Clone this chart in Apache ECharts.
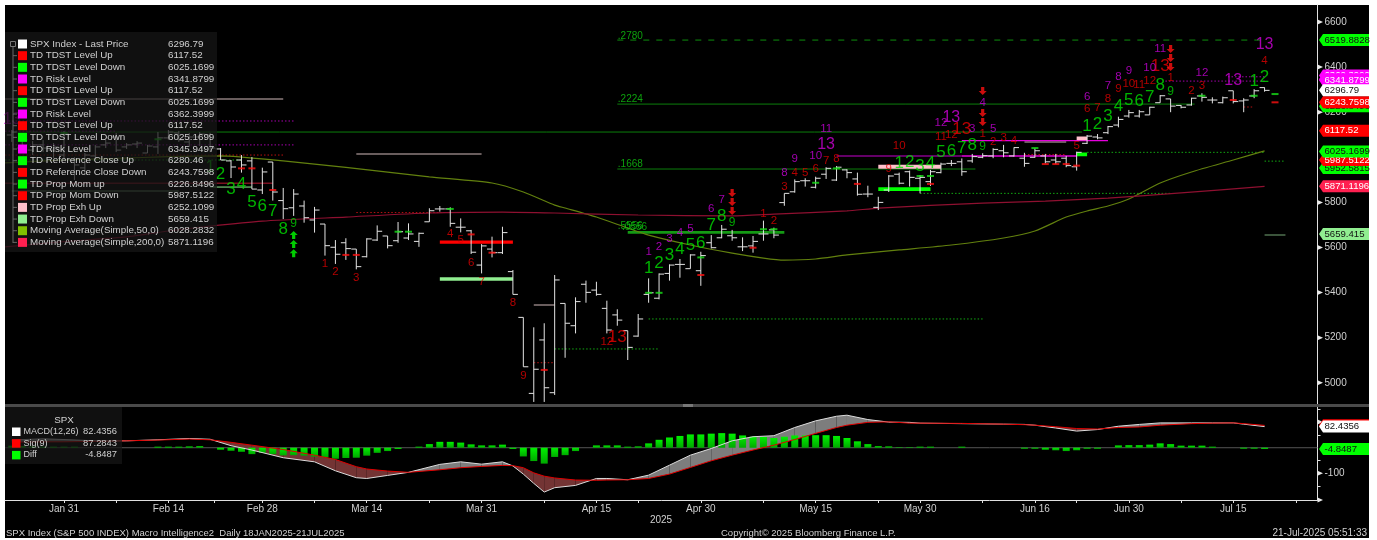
<!DOCTYPE html>
<html><head><meta charset="utf-8">
<style>html,body{margin:0;padding:0;background:#fff;width:1377px;height:540px;overflow:hidden}
#bg{position:absolute;left:5px;top:5px;width:1364px;height:533px;background:#000}
#c{position:absolute;left:0;top:0;width:1377px;height:540px}</style>
<script src="https://cdn.jsdelivr.net/npm/echarts@6/dist/echarts.min.js"></script>
</head><body><div id="bg"></div><div id="c"></div>
<script>
// sessions counted from Jan 31 = 0
const firstSession = -5;
const open = [6099,6041,6032,6055,6032,6010,5988,5953,6006,6055,6090,6046,6059,6019,6046,6086,6108,6068,6090,6099,6037,5984,5988,5984,5855,5979,5808,5776,5784,5722,5704,5601,5621,5593,5559,5633,5651,5630,5642,5627,5714,5771,5771,5690,5674,5522,5593,5577,5493,5290,4953,5190,4956,5352,5253,5437,5411,5330,5301,5231,5207,5392,5375,5485,5525,5506,5497,5621,5643,5652,5603,5607,5660,5678,5799,5847,5896,5867,5925,5899,5944,5904,5837,5778,5855,5925,5936,5907,5892,5932,5973,5980,5984,6000,6006,6029,6006,5996,6000,6006,5988,5996,5958,6062,6090,6109,6143,6183,6183,6188,6242,6259,6230,6232,6272,6254,6242,6295,6250,6272,6309];
const high = [6121,6086,6072,6077,6063,6117,6001,6019,6055,6077,6108,6063,6072,6055,6112,6121,6117,6108,6112,6108,6041,5988,6010,6001,5954,5979,5864,5859,5808,5780,5704,5633,5641,5593,5641,5698,5651,5713,5707,5666,5774,5784,5778,5729,5678,5615,5648,5692,5500,5290,5246,5264,5478,5352,5379,5453,5448,5364,5326,5231,5305,5463,5485,5525,5549,5570,5581,5655,5700,5678,5645,5651,5719,5688,5840,5902,5907,5914,5956,5961,5947,5932,5874,5825,5921,5932,5941,5921,5944,5976,5988,5995,6015,6018,6040,6055,6044,6020,6040,6015,6015,6006,6025,6099,6103,6139,6180,6210,6210,6224,6276,6259,6232,6264,6284,6266,6269,6295,6262,6302,6310];
const low = [6068,6032,6010,6023,5997,5988,5899,5921,5997,6041,6023,6037,6041,6019,6015,6077,6068,6046,6050,6023,5988,5908,5932,5859,5837,5808,5726,5740,5710,5666,5564,5527,5545,5503,5556,5629,5596,5621,5633,5603,5714,5759,5692,5667,5571,5485,5556,5571,5392,5071,4915,4915,4946,5111,5219,5355,5386,5219,5253,5101,5204,5355,5370,5453,5466,5506,5430,5596,5641,5630,5584,5577,5630,5641,5785,5843,5870,5862,5904,5895,5907,5830,5823,5766,5846,5880,5870,5840,5873,5929,5961,5918,5976,5996,5996,6000,6003,5958,5998,5973,5970,5956,5941,6059,6080,6103,6133,6176,6176,6188,6242,6200,6217,6229,6247,6239,6239,6239,6200,6262,6291];
const close = [6112,6077,6055,6041,6046,6103,5966,6010,6046,6063,6032,6055,6063,6050,6086,6112,6077,6090,6103,6041,5988,5957,5966,5859,5935,5846,5772,5837,5732,5766,5608,5570,5595,5515,5638,5672,5608,5670,5660,5663,5763,5771,5707,5690,5579,5607,5577,5666,5392,5071,5060,4978,5456,5264,5360,5401,5392,5234,5278,5157,5283,5399,5482,5522,5525,5567,5564,5599,5681,5643,5603,5627,5660,5655,5840,5892,5896,5907,5951,5956,5932,5836,5837,5800,5917,5885,5911,5911,5936,5970,5973,5936,6003,6007,6035,6020,6043,5973,6029,5980,5980,5963,6022,6094,6086,6136,6168,6198,6202,6222,6273,6227,6222,6262,6266,6254,6264,6247,6254,6295,6296.79];

const ma50Sessions = [-5.65,0,5,10,15,21,27,35,41,44,47,48,51,54,56,60,64,67,69,72,75,80,85,90,93,96,98,100,102,105,108,112,115];
const ma50Values = [5975,5988,5995,6003,6006,5984,5955,5913,5886,5846,5788,5775,5735,5686,5655,5611,5575,5553,5544,5549,5567,5589,5611,5642,5673,5735,5762,5784,5815,5886,5935,5988,6028.28];
const ma200Sessions = [-5.65,0,6,10,14,19,27,35,42,47,55,64,68,75,78,88,94,100,107,115];
const ma200Values = [5603,5626,5647,5673,5695,5717,5735,5753,5757,5753,5744,5740,5748,5762,5775,5797,5806,5819,5842,5871.12];

// horizontal levels: [from session, to session, price]
const fibSolid = [[53,108.3,6236],[53,87.3,5948],[-5,97.5,6112]];
const fibDashed = [[53,115,6519.88]];
const exhUpThin = [[-5.65,21,6258],[28,40,6015],[45,47,5345],[92,96,6068]];
const riskDotted = [[-5.65,22,6161],[-5.65,22,6055],[-5.65,5,6116],[105.5,115,6338],[111.5,115,6357]];
const riskDim = [[74,86,6006]];
const riskBright = [[86,97,6006],[86,100,6074]];
const tdstUpDotted = [[-5.65,21,6010],[28,38,5755],[45,47,5089],[92,96,6012],[113,114,6223]];
const tdstDownDotted = [[-5.65,17,5988],[47,57,5150],[56,88,5283],[82,106,5840],[98,115,6022],[115,117,5983]];
const propDown = [[-5.65,20,5885]];
const exhDownThin = [[14,18,5868]];
const exhDownDim = [[-5,11,5850],[115,117,5655]];
const thickRed = [[36,43,5624]];
const thickPaleGreen = [[36,43,5460]];
const thickGreen = [[54,69,5667]];
const thickPink = [[78,84,5958],[97,98,6084]];
const thickLime = [[78,83,5859],[97,98,6013]];
const fibLabels = [[53,6538,'.2780'],[53,6256,'.2224'],[53,5970,'.1668'],[53,5695,'.5556'],[53.4,5691,'.0556']];

// TD counts: [session, price, text]
const countGreenBig = [[14,5957,'1'],[15,5926,'2'],[16,5859,'3'],[17,5882,'4'],[18,5802,'5'],[19,5784,'6'],[20,5762,'7'],[21,5682,'8'],
 [56,5509,'1'],[57,5531,'2'],[58,5567,'3'],[59,5593,'4'],[60,5611,'5'],[61,5620,'6'],[62,5700,'7'],[63,5740,'8'],
 [80,5975,'1'],[81,5979,'2'],[82,5961,'3'],[83,5975,'4'],[84,6023,'5'],[85,6028,'6'],[86,6041,'7'],[87,6055,'8'],
 [98,6139,'1'],[99,6148,'2'],[100,6183,'3'],[101,6227,'4'],[102,6254,'5'],[103,6250,'6'],[104,6267,'7'],[105,6321,'8'],[114,6338,'1'],[115,6356,'2']];
const countGreenNine = [[22,5704,'9'],[64,5709,'9'],[88,6046,'9'],[106,6290,'9']];
const countRed = [[25,5527,'1'],[26,5491,'2'],[28,5465,'3'],[37,5660,'4'],[38,5633,'5'],[39,5531,'6'],[40,5447,'7'],[43,5354,'8'],[44,5030,'9'],[52,5181,'12'],
 [67,5749,'1'],[68,5717,'2'],[69,5868,'3'],[70,5930,'4'],[71,5930,'5'],[72,5948,'6'],[73,5984,'7'],[74,5992,'8'],[79,5948,'9'],[80,6050,'10'],[84,6090,'11'],[85,6099,'12'],
 [88,6103,'1'],[89,6068,'2'],[90,6086,'3'],[91,6072,'4'],[97,6050,'5'],[98,6214,'6'],[99,6219,'7'],[100,6259,'8'],[101,6303,'9'],[102,6325,'10'],[103,6321,'11'],[104,6338,'12'],
 [106,6352,'1'],[108,6294,'2'],[109,6316,'3'],[115,6427,'4']];
const countRedBig = [[53,5203,'13'],[86,6125,'13'],[105,6405,'13']];
const countPurple = [[56,5580,'1'],[57,5602,'2'],[58,5638,'3'],[59,5664,'4'],[60,5682,'5'],[62,5771,'6'],[63,5811,'7'],[69,5930,'8'],[70,5992,'9'],[72,6006,'10'],[73,6125,'11'],
 [84,6152,'12'],[87,6125,'3'],[88,6241,'4'],[89,6125,'5'],[98,6267,'6'],[100,6316,'7'],[101,6356,'8'],[102,6383,'9'],[104,6396,'10'],[105,6480,'11'],[109,6374,'12']];
const countPurpleBig = [[73,6055,'13'],[85,6174,'13'],[112,6338,'13'],[115,6498,'13'],[-5,6165,'13']];
const arrowsUp = [[22,5655],[22,5615],[22,5575]];
const arrowsDown = [[64,5842],[64,5802],[64,5762],[88,6294],[88,6196],[88,6157],[106,6480],[106,6440],[106,6400]];
const refCloseDown = [[17,5951],[18,5951],[20,5855],[27,5567],[28,5567],[39,5658],[41,5577],[46,5057],[61,5478],[66,5599],[76,5882],[83,5882],[94,5970],[95,5970],[96,5970],[97,5963],[112,6254],[116,6243.76]];
const refCloseUp = [[0,6108],[9,6080],[32,5670],[33,5670],[37,5771],[56,5399],[57,5399],[61,5556],[67,5681],[68,5681],[72,5887],[74,5951],[82,5917],[83,5917],[93,6041],[109,6273],[114,6273],[116,6280.46]];

// MACD panel
const macdSessions = [-5,-2,0,3,6,9,12,14,16,18,21,24,26,28,29,31,33,36,38,40,42,43,44,45,46,47,49,51,52,54,56,58,60,62,64,66,68,70,72,74,75,77,79,81,82,86,90,92,93,95,97,99,101,103,105,108,110,112,113,115];
const macdValues = [30,35,32,27,27,31,36,33,8,-9,-39,-55,-90,-117,-120,-108,-96,-65,-55,-64,-55,-71,-103,-139,-173,-156,-147,-120,-120,-125,-107,-68,-29,-3,27,43,47,79,105,123,127,110,100,99,96,94,92,91,88,77,65,71,84,91,97,97,97,97,92,82.44];
const signalValues = [21,23,23,25,27,30,34,31,21,10,-7,-29,-46,-74,-83,-91,-96,-86,-78,-73,-69,-70,-78,-98,-111,-118,-126,-127,-126,-125,-120,-103,-77,-51,-29,-9,10,32,56,79,88,99,101,96,96,95,92,90,88,82,75,73,79,81,88,94,96,97,94,87.28];
const diffStart = -5;
const diffValues = [8,6,5,4,4,4,4,0,0,0,0,0,0,0,4,4,4,5,6,0,-8,-12,-16,-25,-20,-25,-30,-29,-31,-35,-38,-43,-40,-39,-31,-20,-13,-5,0,4,14,23,23,20,13,9,9,12,-5,-34,-52,-62,-36,-29,-13,0,9,9,9,4,5,17,31,40,46,52,52,55,57,55,48,43,42,38,43,48,48,49,49,46,38,25,14,6,5,2,2,4,4,0,0,4,0,0,0,0,0,-4,-4,-8,-10,-13,-10,-4,-4,0,9,10,10,12,17,14,8,8,8,4,0,0,-4,-4,-4.85];

// axes
const dateTicks = [0,10,19,29,40,51,61,72,82,93,102,112];
const dateLabels = ['Jan 31','Feb 14','Feb 28','Mar 14','Mar 31','Apr 15','Apr 30','May 15','May 30','Jun 16','Jun 30','Jul 15'];
const minorDateTicks = [5,14.4,24,35,46,55,67,78,88,97,107,118];
const priceTicks = [5000,5200,5400,5600,5800,6200,6400,6600];
const macdLabelTicks = [-100];
const macdArrowTicks = [-204,-100,100];
const macdMinorTicks = [-200,-150,-50,50,150];

// right-edge value flags, low value first so higher ones overlap
const priceFlags = [['5659.415',5659.415,'#90ee90','#111'],['5871.1196',5871.12,'#ff2050','#fff'],['5952.5815',5952.58,'#00ff00','#111'],['5987.5122',5987.51,'#ff0000','#fff'],['6025.1699',6025.17,'#00ff00','#111'],['6117.52',6117.52,'#ff0000','#fff'],['6226.8496',6226.85,'#00ff00','#111'],['6243.7598',6243.76,'#ff0000','#fff'],['6362.3999',6362.4,'#ff00ff','#fff'],['6345.9497',6345.95,'#ff00ff','#fff'],['6341.8799',6341.88,'#ff00ff','#fff'],['6519.8828',6519.88,'#00ff00','#111'],['6296.79',6296.79,'#ffffff','#111']];
const macdFlags = [['87.2843',87.28,'#ff0000','#fff'],['82.4356',82.44,'#ffffff','#111'],['-4.8487',-4.85,'#00ff00','#111']];

// legend
const legendLabels = ['SPX Index - Last Price','TD TDST Level Up','TD TDST Level Down','TD Risk Level','TD TDST Level Up','TD TDST Level Down','TD Risk Level','TD TDST Level Up','TD TDST Level Down','TD Risk Level','TD Reference Close Up','TD Reference Close Down','TD Prop Mom up','TD Prop Mom Down','TD Prop Exh Up','TD Prop Exh Down','Moving Average(Simple,50,0)','Moving Average(Simple,200,0)'];
const legendValues = ['6296.79','6117.52','6025.1699','6341.8799','6117.52','6025.1699','6362.3999','6117.52','6025.1699','6345.9497','6280.46','6243.7598','6226.8496','5987.5122','6252.1099','5659.415','6028.2832','5871.1196'];
const legendColors = ['#fff','#f00','#0f0','#f0f','#f00','#0f0','#f0f','#f00','#0f0','#f0f','#0f0','#f00','#0f0','#f00','#ffc0cb','#90ee90','#80c000','#ff2050'];
const macdLegendLabels = ['MACD(12,26)','Sig(9)','Diff'];
const macdLegendValues = ['82.4356','87.2843','-4.8487'];
const macdLegendColors = ['#fff','#f00','#0f0'];

const FONT = '"Liberation Sans",Arial,sans-serif';
const TXT = '#d0d0d0';
const XMIN = -5.65, XMAX = 120.07;

const session = i => firstSession + i;
const ohlc = open.map((o,i)=>[session(i),o,high[i],low[i],close[i]]);
const seg = list => { const d=[]; list.forEach(s=>{d.push([s[0],s[2]],[s[1],s[2]],[null,null]);}); return d; };
const lvl = (name,list,color,width,type) => ({name,type:'line',data:seg(list),showSymbol:false,symbol:'none',silent:true,z:3,connectNulls:false,lineStyle:{color,width,type:type||'solid'},xAxisIndex:0,yAxisIndex:0});
const cnt = (name,list,color,size) => ({name,type:'scatter',data:list.map(d=>({value:[d[0],d[1]],label:{formatter:d[2]}})),symbolSize:1,itemStyle:{color:'rgba(0,0,0,0)'},silent:true,z:8,xAxisIndex:0,yAxisIndex:0,
  label:{show:true,position:'inside',color,fontSize:size,fontFamily:FONT}});
const dash = (name,list,color) => ({name,type:'scatter',data:list,symbol:'rect',symbolSize:[7,2],itemStyle:{color},silent:true,z:7,xAxisIndex:0,yAxisIndex:0});
const ARROW='path://M5 0 L10 5 L7 5 L7 10 L3 10 L3 5 L0 5 Z';
const arr = (name,list,color,rot) => ({name,type:'scatter',data:list,symbol:ARROW,symbolSize:[8,8],symbolRotate:rot,itemStyle:{color},silent:true,z:9,xAxisIndex:0,yAxisIndex:0});

function flagSeries(name,list,xi,yi){
  return {name,type:'custom',xAxisIndex:xi,yAxisIndex:yi,z:20,silent:true,clip:false,
    data:list.map(f=>[XMAX,f[1]]),
    renderItem(p,api){
      const f=list[p.dataIndex], c=api.coord([XMAX,f[1]]), x=c[0], y=c[1];
      return {type:'group',children:[
        {type:'polygon',shape:{points:[[x+1.5,y],[x+5.5,y-6],[x+51.5,y-6],[x+51.5,y+6],[x+5.5,y+6]]},style:{fill:f[2]}},
        {type:'text',style:{x:x+7,y:y,text:f[0],fill:f[3],font:'9.6px '+FONT,verticalAlign:'middle',align:'left'}}
      ]};
    }};
}
function arrowTicks(name,vals,xi,yi){
  return {name,type:'custom',xAxisIndex:xi,yAxisIndex:yi,z:6,silent:true,clip:false,data:vals.map(v=>[XMAX,v]),
    renderItem(p,api){
      const c=api.coord([XMAX,vals[p.dataIndex]]);
      return {type:'polygon',shape:{points:[[c[0],c[1]-2.5],[c[0]+5.5,c[1]],[c[0],c[1]+2.5]]},style:{fill:'#e8e8e8'}};
    }};
}

// legend graphics
const g=[];
g.push({type:'rect',shape:{x:5,y:404,width:1364,height:3},style:{fill:'#4a4a4a'},z:50});
g.push({type:'rect',shape:{x:683,y:404,width:10,height:3},style:{fill:'#777'},z:51});
g.push({type:'rect',shape:{x:5,y:32,width:212,height:220},style:{fill:'rgba(22,22,22,0.74)'},z:100});
g.push({type:'line',shape:{x1:13,y1:46,x2:13,y2:243},style:{stroke:'#666',lineWidth:1},z:101});
g.push({type:'rect',shape:{x:10.5,y:41.5,width:5,height:5},style:{fill:'#111',stroke:'#777',lineWidth:1},z:101});
legendLabels.forEach((t,i)=>{
  const y=44+i*11.67;
  if(i>0) g.push({type:'line',shape:{x1:13,y1:y,x2:17,y2:y},style:{stroke:'#666',lineWidth:1},z:101});
  g.push({type:'rect',shape:{x:18,y:y-4.5,width:9,height:9},style:{fill:legendColors[i]},z:101});
  g.push({type:'text',x:30,y:y,style:{text:t,fill:TXT,font:'9.8px '+FONT,verticalAlign:'middle'},z:101});
  g.push({type:'text',x:168,y:y,style:{text:legendValues[i],fill:TXT,font:'9.8px '+FONT,verticalAlign:'middle'},z:101});
});
g.push({type:'rect',shape:{x:5,y:407,width:117,height:57},style:{fill:'rgba(22,22,22,0.74)'},z:100});
g.push({type:'text',x:64,y:420,style:{text:'SPX',fill:TXT,font:'9.8px '+FONT,align:'center',verticalAlign:'middle'},z:101});
macdLegendLabels.forEach((t,i)=>{
  const y=431.5+i*11.7;
  g.push({type:'rect',shape:{x:12,y:y-4,width:8.5,height:8.5},style:{fill:macdLegendColors[i]},z:101});
  g.push({type:'text',x:23.5,y:y,style:{text:t,fill:TXT,font:'9px '+FONT,verticalAlign:'middle'},z:101});
  g.push({type:'text',x:117,y:y,style:{text:macdLegendValues[i],fill:TXT,font:'9.4px '+FONT,align:'right',verticalAlign:'middle'},z:101});
});
const footer=[['SPX Index (S&P 500 INDEX) Macro Intelligence2  Daily 18JAN2025-21JUL2025',6,533,'left',9.5],['Copyright\u00a9 2025 Bloomberg Finance L.P.',721,533,'left',9.5],['21-Jul-2025 05:51:33',1367,533,'right',10],['2025',661,520,'center',10]];
footer.forEach(f=>g.push({type:'text',x:f[1],y:f[2],style:{text:f[0],fill:TXT,font:f[4]+'px '+FONT,align:f[3],verticalAlign:'middle'},z:101}));

const fillQuads=[];
for(let i=0;i<macdSessions.length-1;i++) fillQuads.push([macdSessions[i],macdValues[i],signalValues[i],macdSessions[i+1],macdValues[i+1],signalValues[i+1]]);

const axisCol='#e0e0e0';
const option={
  animation:false,backgroundColor:'transparent',
  grid:[{left:5,right:59.5,top:5,height:399},{left:5,right:59.5,top:407,height:93}],
  xAxis:[
    {type:'value',gridIndex:0,min:XMIN,max:XMAX,show:false,splitLine:{show:false}},
    {type:'value',gridIndex:1,min:XMIN,max:XMAX,splitLine:{show:false},
      axisLine:{show:true,onZero:false,lineStyle:{color:axisCol}},
      axisTick:{show:true,length:3,lineStyle:{color:axisCol},customValues:dateTicks.concat(minorDateTicks)},
      axisLabel:{show:true,margin:4,color:TXT,fontSize:10,fontFamily:FONT,customValues:dateTicks,formatter:v=>dateLabels[dateTicks.indexOf(v)]||''}}
  ],
  yAxis:[
    {type:'value',gridIndex:0,position:'right',min:4905.9,max:6675.4,splitLine:{show:false},
      axisLine:{show:true,onZero:false,lineStyle:{color:axisCol}},
      axisTick:{show:false},
      axisLabel:{show:true,margin:7,color:TXT,fontSize:10,fontFamily:FONT,customValues:priceTicks,formatter:v=>String(v)}},
    {type:'value',gridIndex:1,position:'right',min:-204,max:159,splitLine:{show:false},
      axisLine:{show:true,onZero:false,lineStyle:{color:axisCol}},
      axisTick:{show:true,length:3,lineStyle:{color:axisCol},customValues:macdMinorTicks},
      axisLabel:{show:true,margin:7,color:TXT,fontSize:10,fontFamily:FONT,customValues:macdLabelTicks,formatter:v=>String(v)}}
  ],
  graphic:{elements:g},
  series:[
    {name:'MA50',type:'line',data:ma50Sessions.map((s,i)=>[s,ma50Values[i]]),showSymbol:false,symbol:'none',smooth:0.2,lineStyle:{color:'#62800e',width:1.2},z:4,silent:true,xAxisIndex:0,yAxisIndex:0},
    {name:'MA200',type:'line',data:ma200Sessions.map((s,i)=>[s,ma200Values[i]]),showSymbol:false,symbol:'none',smooth:0.2,lineStyle:{color:'#8e1030',width:1.2},z:4,silent:true,xAxisIndex:0,yAxisIndex:0},
    lvl('fibSolid',fibSolid,'#0b7f0b',1),
    lvl('fibDashed',fibDashed,'#0e8f0e',1,[6,7]),
    lvl('exhUpThin',exhUpThin,'#8c7c7c',1.5),
    lvl('riskDotted',riskDotted,'#a400ac',1,[1.5,2]),
    lvl('riskDim',riskDim,'#85008a',1.6),
    lvl('riskBright',riskBright,'#e400dc',1.4),
    lvl('tdstUp',tdstUpDotted,'#b81010',1,[1.5,2]),
    lvl('tdstDown',tdstDownDotted,'#12a812',1,[1.5,2]),
    lvl('propDown',propDown,'#7a1020',1.4),
    lvl('exhDownThin',exhDownThin,'#90ee90',1),
    lvl('exhDownDim',exhDownDim,'#4f704f',1.5),
    lvl('thickRed',thickRed,'#ff0000',3.4),
    lvl('thickPale',thickPaleGreen,'#90ee90',3.4),
    lvl('thickGreen',thickGreen,'#149a14',2.6),
    lvl('thickPink',thickPink,'#ffc0cb',3.8),
    lvl('thickLime',thickLime,'#00ff00',3.8),
    {name:'price',type:'custom',xAxisIndex:0,yAxisIndex:0,z:5,silent:true,data:ohlc,
      renderItem(p,api){
        const i=api.value(0),O=api.coord([i,api.value(1)]),H=api.coord([i,api.value(2)]),L=api.coord([i,api.value(3)]),C=api.coord([i,api.value(4)]);
        const st={stroke:'#e4e4e4',lineWidth:1};
        return {type:'group',children:[
          {type:'line',shape:{x1:H[0],y1:H[1],x2:L[0],y2:L[1]},style:st},
          {type:'line',shape:{x1:O[0]-5,y1:O[1],x2:O[0],y2:O[1]},style:st},
          {type:'line',shape:{x1:C[0],y1:C[1],x2:C[0]+5,y2:C[1]},style:st}
        ]};
      }},
    dash('refDown',refCloseDown,'#ff1010'),
    dash('refUp',refCloseUp,'#18e018'),
    cnt('countGreenBig',countGreenBig,'#00e000',17),
    cnt('countGreenNine',countGreenNine,'#00d000',12),
    cnt('countRed',countRed,'#e00000',11.5),
    cnt('countRedBig',countRedBig,'#e80000',17),
    cnt('countPurple',countPurple,'#c800d8',11.5),
    cnt('countPurpleBig',countPurpleBig,'#d000d8',16),
    {name:'fibLabels',type:'scatter',data:fibLabels.map(d=>({value:[d[0],d[1]],label:{formatter:d[2]}})),symbolSize:1,itemStyle:{color:'rgba(0,0,0,0)'},silent:true,z:8,xAxisIndex:0,yAxisIndex:0,
      label:{show:true,position:'right',distance:0,color:'#10c810',fontSize:10,fontFamily:FONT}},
    arr('arrowsUp',arrowsUp,'#00ff00',0),
    arr('arrowsDown',arrowsDown,'#ff1010',180),
    arrowTicks('priceTicks',priceTicks,0,0),
    arrowTicks('macdTicks',macdArrowTicks,1,1),
    {name:'zero',type:'line',xAxisIndex:1,yAxisIndex:1,data:[[XMIN,0],[XMAX,0]],showSymbol:false,symbol:'none',lineStyle:{color:'#555',width:1},z:2,silent:true},
    {name:'macdFill',type:'custom',xAxisIndex:1,yAxisIndex:1,z:3,silent:true,data:fillQuads,
      renderItem(p,api){
        const q=fillQuads[p.dataIndex];
        const a=api.coord([q[0],q[1]]),b=api.coord([q[3],q[4]]),c=api.coord([q[3],q[5]]),d=api.coord([q[0],q[2]]);
        const up=(q[1]-q[2])+(q[4]-q[5])>=0;
        return {type:'polygon',shape:{points:[a,b,c,d]},style:{fill:up?'#7d7d7d':'#733434'}};
      }},
    {name:'diff',type:'bar',xAxisIndex:1,yAxisIndex:1,barWidth:7,z:4,silent:true,
      data:diffValues.map((v,i)=>[diffStart+i,v]),
      itemStyle:{color:{type:'linear',x:0,y:0,x2:0,y2:1,colorStops:[{offset:0,color:'#00f000'},{offset:1,color:'#00a800'}]}}},
    {name:'macd',type:'line',xAxisIndex:1,yAxisIndex:1,data:macdSessions.map((s,i)=>[s,macdValues[i]]),showSymbol:false,symbol:'none',lineStyle:{color:'#dcdcdc',width:1},z:5,silent:true},
    {name:'signal',type:'line',xAxisIndex:1,yAxisIndex:1,data:macdSessions.map((s,i)=>[s,signalValues[i]]),showSymbol:false,symbol:'none',lineStyle:{color:'#e00000',width:1},z:6,silent:true},
    flagSeries('priceFlags',priceFlags,0,0),
    flagSeries('macdFlags',macdFlags,1,1)
  ]
};
echarts.init(document.getElementById('c')).setOption(option);
</script></body></html>
